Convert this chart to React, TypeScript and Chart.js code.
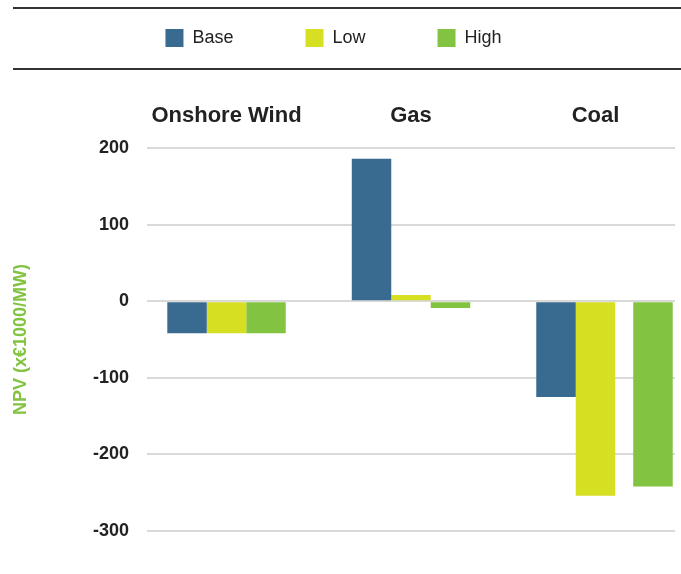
import React, { useEffect, useRef } from 'react';
import { Chart, registerables } from 'chart.js';

Chart.register(...registerables);

// ---- data ----
const categories = ['Onshore Wind', 'Gas', 'Coal'];
const seriesNames = ['Base', 'Low', 'High'];
const baseValues = [-42, 186, -125];
const lowValues = [-42, 8, -254];
const highValues = [-42, -9, null];
// the Coal "High" bar sits apart from its group in the original figure
const highCoalValues = [null, null, -242];
const yTickValues = [200, 100, 0, -100, -200, -300];
const yTitle = 'NPV (x€1000/MW)';

const COLORS = ['#386B8F', '#D6DF22', '#82C341'];
const FONT = '"Liberation Sans", Arial, Helvetica, sans-serif';

const toPoints = (vals: (number | null)[]) => vals.map((y, i) => ({ x: i, y }));

const rulesPlugin = {
  id: 'legendRules',
  afterDraw(chart: any) {
    const ctx = chart.ctx;
    ctx.save();
    ctx.strokeStyle = '#333333';
    ctx.lineWidth = 2;
    [8, 69].forEach((y) => {
      ctx.beginPath();
      ctx.moveTo(13, y);
      ctx.lineTo(chart.width, y);
      ctx.stroke();
    });
    ctx.restore();
  },
};

export default function App() {
  const ref = useRef<HTMLCanvasElement | null>(null);

  useEffect(() => {
    if (!ref.current) return;
    const mainBar = { categoryPercentage: 0.642, barPercentage: 1, borderWidth: 0, skipNull: true };
    const chart = new Chart(ref.current, {
      type: 'bar',
      data: {
        datasets: [
          { label: seriesNames[0], data: toPoints(baseValues), backgroundColor: COLORS[0], ...mainBar },
          { label: seriesNames[1], data: toPoints(lowValues), backgroundColor: COLORS[1], ...mainBar },
          { label: seriesNames[2], data: toPoints(highValues), backgroundColor: COLORS[2], ...mainBar },
          {
            label: seriesNames[2],
            data: toPoints(highCoalValues),
            backgroundColor: COLORS[2],
            categoryPercentage: 0.935,
            barPercentage: 0.687,
            borderWidth: 0,
            skipNull: true,
          },
        ],
      } as any,
      options: {
        responsive: false,
        animation: false,
        devicePixelRatio: 1,
        layout: { padding: { top: -43, left: -8, right: 6, bottom: 43 } },
        plugins: {
          tooltip: { enabled: false },
          legend: {
            position: 'top',
            labels: {
              filter: (item: any) => item.datasetIndex < 3,
              boxWidth: 18,
              boxHeight: 18,
              padding: 72,
              color: '#222222',
              font: { family: FONT, size: 18 },
            },
          },
        },
        scales: {
          x: {
            type: 'linear',
            position: 'top',
            min: -0.431,
            max: 2.431,
            offset: false,
            grid: { display: false, drawTicks: false, offset: false },
            border: { display: false },
            afterBuildTicks: (scale: any) => {
              scale.ticks = categories.map((_, i) => ({ value: i }));
            },
            afterFit: (scale: any) => {
              scale.height = 91;
            },
            ticks: {
              padding: 19,
              color: '#222222',
              font: { family: FONT, size: 22, weight: 'bold' },
              maxRotation: 0,
              autoSkip: false,
              callback: (v: any) => categories[Math.round(Number(v))] ?? '',
            },
          },
          y: {
            type: 'linear',
            min: yTickValues[yTickValues.length - 1],
            max: yTickValues[0],
            afterBuildTicks: (scale: any) => {
              scale.ticks = yTickValues.map((v) => ({ value: v }));
            },
            afterFit: (scale: any) => {
              scale.width = 155;
            },
            grid: { color: '#d9d9d9', lineWidth: 2, drawTicks: false },
            border: { display: false },
            ticks: {
              padding: 18,
              color: '#222222',
              font: { family: FONT, size: 18, weight: 'bold' },
            },
            title: {
              display: true,
              text: yTitle,
              color: '#82C341',
              font: { family: FONT, size: 18, weight: 'bold' },
              padding: { top: 18, bottom: 0 },
            },
          },
        },
      } as any,
      plugins: [rulesPlugin],
    });
    return () => chart.destroy();
  }, []);

  return (
    <div style={{ position: 'absolute', left: 0, top: 0, width: 681, height: 574, background: '#fff' }}>
      <canvas ref={ref} width={681} height={574} style={{ display: 'block' }} />
    </div>
  );
}
